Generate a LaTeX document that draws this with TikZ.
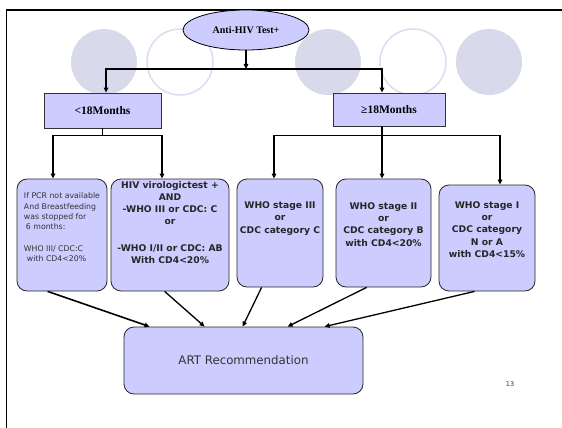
\documentclass[tikz,border=0pt]{standalone}
\usepackage{fontspec}
\setmainfont{Liberation Serif}
\setsansfont{DejaVu Sans}
\usepackage{tikz}
\usetikzlibrary{shapes.geometric, arrows.meta, positioning, calc}
\definecolor{BoxLilac}{HTML}{CCCCFF}
\definecolor{RingLilac}{HTML}{D9D9EC}
\definecolor{RingEdge}{HTML}{DCDCF0}
\definecolor{InkGray}{HTML}{333333}

\begin{document}
\begin{tikzpicture}[x=1pt, y=-1pt,
    oval/.style={ellipse, draw, fill=BoxLilac, line width=0.8pt, minimum width=126pt, minimum height=40pt,
                 inner sep=0pt, font=\bfseries\fontsize{10}{12}\selectfont},
    agebox/.style={draw=InkGray, fill=BoxLilac, line width=0.8pt, inner sep=0pt,
                   font=\bfseries\fontsize{11.5}{13}\selectfont},
    stagebox/.style={draw=black!85, fill=BoxLilac, rounded corners=10pt, line width=0.8pt, inner sep=0pt,
                     align=center, font=\sffamily\bfseries\fontsize{9.2}{12.2}\selectfont, text=black!85},
    notebox/.style={stagebox, align=left, font=\sffamily\fontsize{7.8}{10.2}\selectfont, text=InkGray},
    artbox/.style={stagebox, font=\sffamily\fontsize{11.8}{14}\selectfont, text=InkGray},
    ring/.style={draw=RingEdge, line width=1.5pt, fill=white},
    disc/.style={fill=RingLilac},
    link/.style={line width=1.6pt},
    arrow/.style={-{Triangle[length=5pt, width=4.5pt]}, line width=1.6pt},
    thinarrow/.style={-{Triangle[length=5pt, width=4.5pt]}, line width=1.3pt}
  ]
    \useasboundingbox (0,0) rectangle (562,428);

    % Background rings
    \fill[disc] (104,62) circle (33);
    \draw[ring] (180,62) circle (33);
    \fill[disc] (328,62) circle (33);
    \draw[ring] (413,62) circle (33);
    \fill[disc] (489,62) circle (33);

    % Slide frame
    \draw[line width=1.8pt] (6.5,428) -- (6.5,10) -- (562,10);

    % Test and age groups
    \node[oval] (test) at (246,30) {Anti-HIV Test+};
    \node[agebox, minimum width=117pt, minimum height=35pt] (young) at (102.5,110.5) {<18Months};
    \node[agebox, minimum width=112pt, minimum height=33pt] (old) at (389,109.5) {≥18Months};

    % Criteria boxes
    \node[notebox, minimum width=90pt, minimum height=112pt] (pcr) at (62,235)
      {If PCR not available\\And Breastfeeding\\was stopped for\\\hspace{2pt}6 months:\\[12pt]
       WHO III/ CDC:C\\\hspace{3pt}with CD4<20\%\\[5pt]\mbox{}};
    \node[stagebox, minimum width=118pt, minimum height=112pt] (viro) at (170,235)
      {HIV virologictest +\\AND\\-WHO III or CDC: C\\or\\[14pt]-WHO I/II or CDC: AB\\With CD4<20\%\\[13pt]\mbox{}};
    \node[stagebox, minimum width=86pt, minimum height=108pt] (stage3) at (280,233)
      {WHO stage III\\or\\CDC category C\\[19pt]\mbox{}};
    \node[stagebox, minimum width=95pt, minimum height=108pt] (stage2) at (383.5,233)
      {WHO stage II\\or\\CDC category B\\with CD4<20\%\\[5pt]\mbox{}};
    \node[stagebox, minimum width=96pt, minimum height=106pt] (stage1) at (487,238)
      {WHO stage I\\or\\CDC category\\N or A\\with CD4<15\%\\[5pt]\mbox{}};

    % Outcome
    \node[artbox, minimum width=239pt, minimum height=67pt] (art) at (243.5,360.5) {ART Recommendation};
    \node[font=\sffamily\fontsize{6.5}{8}\selectfont, text=InkGray] (pagenum) at (510,384) {13};

    % Arrows
    \coordinate (split) at (246,69);
    \coordinate (ysplit) at (102.5,135.5);
    \coordinate (osplit) at (382,135.5);
    \draw[arrow] (test) -- (split);
    \draw[arrow] (split) -| ([xshift=3.5pt]young.north);
    \draw[arrow] (split) -| ([xshift=-7pt]old.north);
    \draw[link] (young) -- (ysplit);
    \draw[arrow] (ysplit) -| ([xshift=-9pt]pcr.north);
    \draw[arrow] (ysplit) -| ([xshift=-8pt]viro.north);
    \draw[link] (osplit |- old.south) -- (osplit);
    \draw[arrow] (osplit) -| ([xshift=-6pt]stage3.north);
    \draw[arrow] (osplit) -- (osplit |- stage2.north);
    \draw[arrow] (osplit) -| ([xshift=13pt]stage1.north);
    \draw[arrow] ([xshift=31pt]pcr.south west) -- ([xshift=26pt]art.north west);
    \draw[thinarrow] ([xshift=54pt]viro.south west) -- ([xshift=81pt]art.north west);
    \draw[thinarrow] ([xshift=25pt]stage3.south west) -- ([xshift=119pt]art.north west);
    \draw[thinarrow] ([xshift=31pt]stage2.south west) -- ([xshift=164pt]art.north west);
    \draw[thinarrow] ([xshift=36pt]stage1.south west) -- ([xshift=201pt]art.north west);

  \end{tikzpicture}
\end{document}
